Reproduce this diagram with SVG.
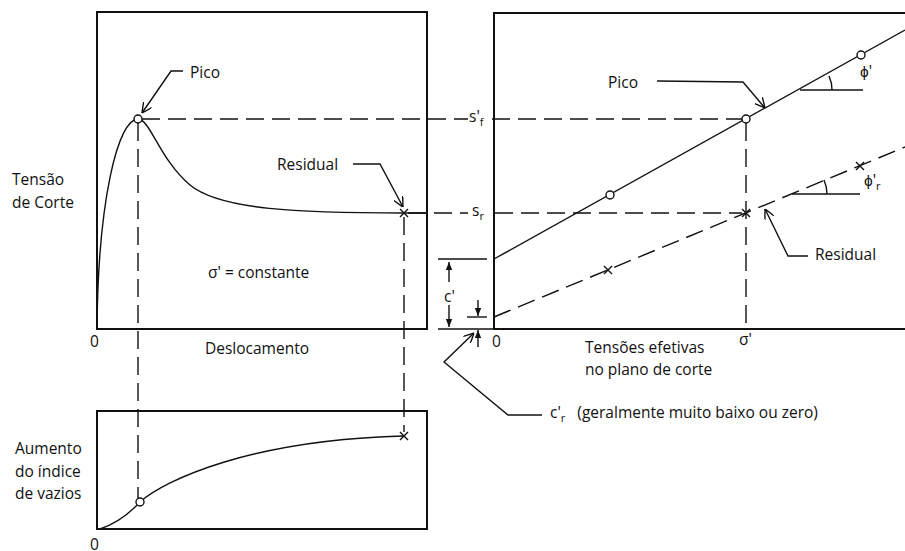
<svg xmlns="http://www.w3.org/2000/svg" width="905" height="551" viewBox="0 0 905 551">
<defs>
<style>
text{font-family:"Open Sans","Liberation Sans",Arial,sans-serif;font-size:15.5px;fill:#111}
.box{fill:none;stroke:#111;stroke-width:2}
.ln{fill:none;stroke:#111;stroke-width:1.4}
.dash{fill:none;stroke:#111;stroke-width:1.4;stroke-dasharray:18 8}
.pt{fill:#fff;stroke:#111;stroke-width:1.4}
</style>
<marker id="open" viewBox="0 0 10 10" refX="10" refY="5" markerWidth="10" markerHeight="10" markerUnits="userSpaceOnUse" orient="auto">
<path d="M0,0 L10,5 L0,10" fill="none" stroke="#111" stroke-width="1.4"/>
</marker>
<marker id="fill" viewBox="0 0 10 10" refX="10" refY="5" markerWidth="8" markerHeight="8" markerUnits="userSpaceOnUse" orient="auto">
<path d="M0,1 L10,5 L0,9 Z" fill="#111"/>
</marker>
</defs>

<g id="panel-shear">
<rect class="box" x="97" y="12" width="330" height="317"/>
<path class="ln" d="M97,329 C98,200 118,119 138,119 C150,119 160,160 190,185 C220,210 300,213 404,213 L427,213"/>
<text x="12" y="185">Tensão</text>
<text x="12" y="208">de Corte</text>
<text x="208" y="278">σ' = constante</text>
<text x="90" y="347">0</text>
<text x="205" y="354">Deslocamento</text>
</g>

<g id="panel-voids">
<rect class="box" x="97" y="411" width="330" height="118"/>
<path class="ln" d="M100,529 C115,524 128,515 140,502 C165,480 250,440 404,436"/>
<text x="15" y="454">Aumento</text>
<text x="15" y="477">do índice</text>
<text x="15" y="499">de vazios</text>
<text x="90" y="550">0</text>
</g>

<g id="panel-envelope">
<path class="box" d="M905,13 L494,13 L494,329 L905,329"/>
<text x="492" y="347">0</text>
<text x="739" y="345">σ'</text>
<text x="585" y="353">Tensões efetivas</text>
<text x="585" y="375">no plano de corte</text>
<path class="ln" d="M494,259 L905,30"/>
<path class="dash" d="M494,317 L905,147"/>
<path class="ln" d="M800,90 L863,90"/>
<path class="ln" d="M832,90 A32,32 0 0 0 829,76"/>
<text x="860" y="77">ϕ'</text>
<path class="ln" d="M792,194 L860,194"/>
<path class="ln" d="M827,194 A35,35 0 0 0 824,180"/>
<text x="864" y="186">ϕ'<tspan dy="4" font-size="11">r</tspan></text>
<text x="469" y="122">s'<tspan dy="4" font-size="11">f</tspan></text>
<text x="472" y="216">s<tspan dy="4" font-size="11">r</tspan></text>
</g>

<g id="dimensions">
<path class="ln" d="M438,259 L487,259"/>
<path class="ln" d="M438,329 L494,329"/>
<path class="ln" marker-end="url(#fill)" d="M449,282 L449,262"/>
<path class="ln" marker-end="url(#fill)" d="M449,305 L449,327"/>
<text x="444" y="302">c'</text>
<path class="ln" d="M467,317 L487,317"/>
<path class="ln" marker-end="url(#fill)" d="M478,300 L478,316"/>
<path class="ln" marker-end="url(#fill)" d="M478,347 L478,330"/>
</g>

<g id="connectors">
<path class="dash" d="M142,119 L468,119"/>
<path class="dash" d="M492,119 L742,119"/>
<path class="dash" d="M408,213 L468,213"/>
<path class="dash" d="M495,213 L742,213"/>
<path class="dash" d="M138,123 L138,498"/>
<path class="dash" d="M404,217 L404,432"/>
<path class="dash" d="M746,123 L746,329"/>
<path class="ln" marker-end="url(#open)" d="M183,71 L171,71 L142,113"/>
<path class="ln" marker-end="url(#open)" d="M353,164 L380,164 L403,207"/>
<path class="ln" marker-end="url(#open)" d="M657,81 L743,82 L765,108"/>
<path class="ln" marker-end="url(#open)" d="M808,256 L788,256 L765,209"/>
<path class="ln" marker-end="url(#open)" d="M542,415 L508,415 L444,362 L474,333"/>
</g>

<g id="labels">
<text x="190" y="78">Pico</text>
<text x="277" y="170">Residual</text>
<text x="608" y="88">Pico</text>
<text x="815" y="260">Residual</text>
<text x="550" y="418">c'<tspan dy="4" font-size="11">r</tspan><tspan dy="-4" dx="12">(geralmente muito baixo ou zero)</tspan></text>
</g>

<g id="points">
<circle class="pt" cx="138" cy="119" r="4"/>
<circle class="pt" cx="746" cy="119" r="4"/>
<circle class="pt" cx="610" cy="195" r="4"/>
<circle class="pt" cx="861" cy="55" r="4"/>
<circle class="pt" cx="140" cy="502" r="4"/>
<path class="ln" d="M400,209 L408,217 M408,209 L400,217"/>
<path class="ln" d="M742,209 L750,217 M750,209 L742,217"/>
<path class="ln" d="M604,266 L612,274 M612,266 L604,274"/>
<path class="ln" d="M856,162 L864,170 M864,162 L856,170"/>
<path class="ln" d="M400,432 L408,440 M408,432 L400,440"/>
</g>
</svg>
